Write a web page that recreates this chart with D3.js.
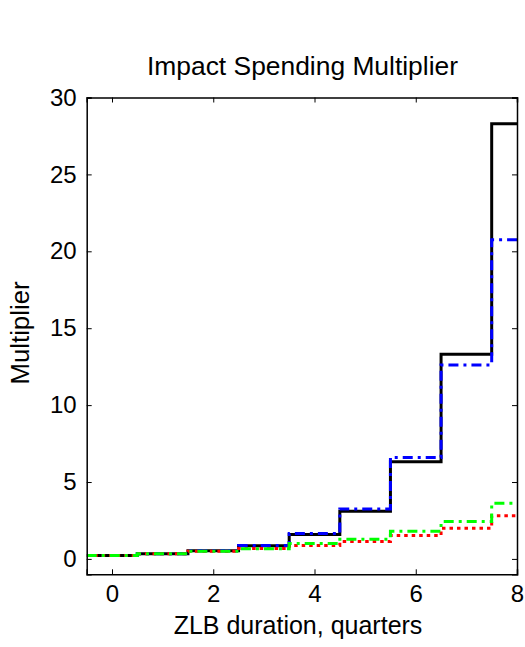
<!DOCTYPE html>
<html>
<head>
<meta charset="utf-8">
<script src="https://cdn.jsdelivr.net/npm/d3@7"></script>
<style>
  body { margin: 0; background: #fff; }
  text { font-family: "Liberation Sans", Arial, Helvetica, sans-serif; fill: #000; }
</style>
</head>
<body>
<div id="chart"></div>
<script>
// ZLB duration in quarters
var quarters = [0, 1, 2, 3, 4, 5, 6, 7, 8];
// multiplier per duration
var blackVals = [0.23, 0.33, 0.53, 0.86, 1.58, 3.1, 6.32, 13.3, 28.3];
var blueVals  = [0.23, 0.33, 0.53, 0.88, 1.65, 3.25, 6.6, 12.6, 20.75];
var redVals   = [0.22, 0.33, 0.5, 0.68, 0.87, 1.13, 1.52, 1.99, 2.81];
var greenVals = [0.22, 0.33, 0.5, 0.66, 1.0, 1.28, 1.8, 2.43, 3.62];
var xTicks = [0, 2, 4, 6, 8];
var yTicks = [0, 5, 10, 15, 20, 25, 30];

var width = 525, height = 647;
var margin = {top: 97.5, right: 8, bottom: 72.7, left: 86.7};

var svg = d3.select("#chart").append("svg")
    .attr("width", width)
    .attr("height", height);

var x = d3.scaleLinear().domain([-0.5, 8]).range([margin.left, width - margin.right]);
var y = d3.scaleLinear().domain([-1, 30]).range([height - margin.bottom, margin.top]);

svg.append("clipPath").attr("id", "plotclip")
  .append("rect")
    .attr("x", x(-0.5)).attr("y", y(30))
    .attr("width", x(8) - x(-0.5)).attr("height", y(-1) - y(30));

// stairs: value k covers [k-0.5, k+0.5]
function stairPoints(vals) {
    var pts = vals.map(function(v, i) { return [quarters[i] - 0.5, v]; });
    pts.push([quarters[quarters.length - 1] + 0.5, vals[vals.length - 1]]);
    return pts;
}

var line = d3.line()
    .x(function(d) { return x(d[0]); })
    .y(function(d) { return y(d[1]); })
    .curve(d3.curveStepAfter);

var series = [
    {vals: blackVals, color: "#000000", dash: null},
    {vals: blueVals,  color: "#0000ff", dash: "10,5,3,5"},
    {vals: redVals,   color: "#ff0000", dash: "3.5,4"},
    {vals: greenVals, color: "#00ff00", dash: "10,5,3,5"}
];

var g = svg.append("g").attr("clip-path", "url(#plotclip)");
series.forEach(function(s) {
    g.append("path")
        .attr("d", line(stairPoints(s.vals)))
        .attr("fill", "none")
        .attr("stroke", s.color)
        .attr("stroke-width", 3)
        .attr("stroke-dasharray", s.dash);
});

// axes (MATLAB box style, ticks inward)
var xAxis = d3.axisBottom(x).tickValues(xTicks).tickSize(-5).tickPadding(11).tickFormat(d3.format("d"));
var yAxis = d3.axisLeft(y).tickValues(yTicks).tickSize(-5).tickPadding(10).tickFormat(d3.format("d"));

var gx = svg.append("g").attr("transform", "translate(0," + y(-1) + ")").call(xAxis);
var gy = svg.append("g").attr("transform", "translate(" + x(-0.5) + ",0)").call(yAxis);
var gx2 = svg.append("g").attr("transform", "translate(0," + y(30) + ")")
    .call(d3.axisTop(x).tickValues(xTicks).tickSize(-5).tickFormat(""));
var gy2 = svg.append("g").attr("transform", "translate(" + x(8) + ",0)")
    .call(d3.axisRight(y).tickValues(yTicks).tickSize(-5).tickFormat(""));

[gx, gy, gx2, gy2].forEach(function(a) {
    a.select(".domain").attr("stroke", "#000").attr("stroke-width", 1.5);
    a.selectAll(".tick line").attr("stroke", "#000").attr("stroke-width", 1);
    a.selectAll("text").style("font-size", "24px").style("font-family", "Liberation Sans, Arial, sans-serif");
});

svg.append("text")
    .attr("x", 302.5)
    .attr("y", 75)
    .attr("text-anchor", "middle")
    .style("font-size", "26.4px")
    .text("Impact Spending Multiplier");

svg.append("text")
    .attr("x", 298)
    .attr("y", 634)
    .attr("text-anchor", "middle")
    .style("font-size", "25px")
    .text("ZLB duration, quarters");

svg.append("text")
    .attr("transform", "translate(29,333) rotate(-90)")
    .attr("text-anchor", "middle")
    .style("font-size", "25.8px")
    .text("Multiplier");
</script>
</body>
</html>
